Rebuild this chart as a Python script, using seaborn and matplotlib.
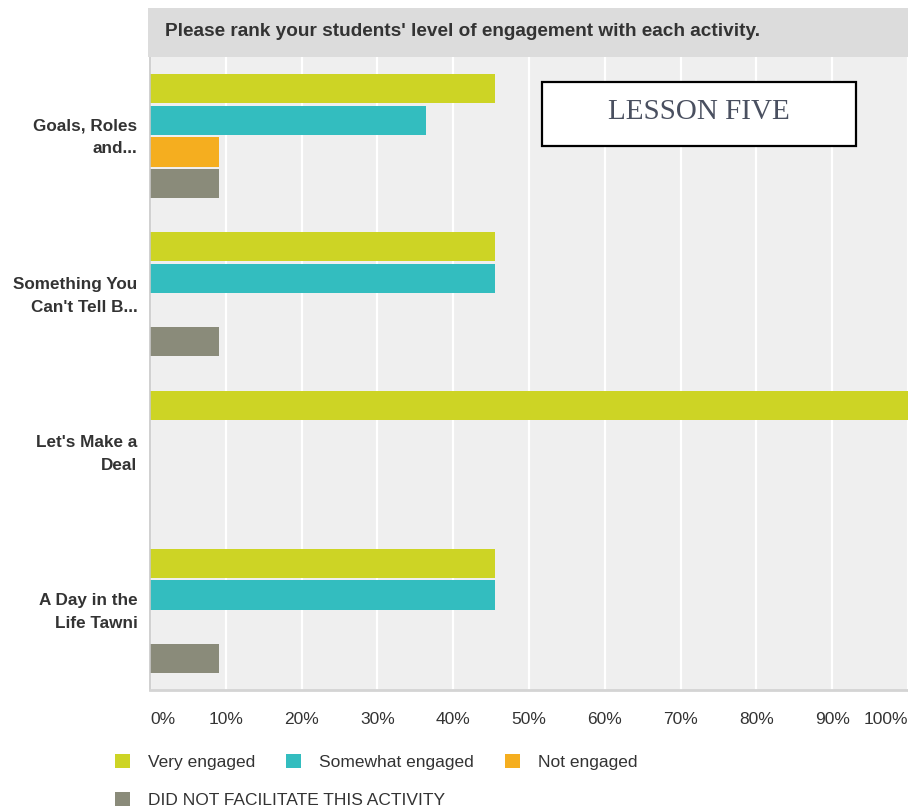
import matplotlib.pyplot as plt
import matplotlib.patches as mpatches
import matplotlib.transforms as mtransforms
import pandas as pd
import seaborn as sns

# Survey results (percent of respondents)
activities = ["Goals, Roles\nand...", "Something You\nCan't Tell B...",
              "Let's Make a\nDeal", "A Day in the\nLife Tawni"]
levels = ["Very engaged", "Somewhat engaged", "Not engaged",
          "DID NOT FACILITATE THIS ACTIVITY"]
very_engaged = [45.45, 45.45, 100.0, 45.45]
somewhat_engaged = [36.36, 45.45, 0.0, 45.45]
not_engaged = [9.09, 0.0, 0.0, 0.0]
did_not_facilitate = [9.09, 9.09, 0.0, 9.09]
x_ticks = [0, 10, 20, 30, 40, 50, 60, 70, 80, 90, 100]
colors = ["#cdd425", "#33bdbf", "#f5ae1f", "#8a8b7a"]

# Long format for seaborn
rows = []
for level, vals in zip(levels, [very_engaged, somewhat_engaged, not_engaged, did_not_facilitate]):
    for act, v in zip(activities, vals):
        rows.append({"activity": act, "level": level, "pct": v})
df = pd.DataFrame(rows)

sns.set_style("white")
plt.rcParams['font.family'] = ['Liberation Sans', 'DejaVu Sans']

W, H = 908, 810
fig = plt.figure(figsize=(W / 100, H / 100), dpi=100)
fig.patch.set_facecolor("white")

# header band
fig.patches.append(mpatches.Rectangle((148 / W, 1 - 57 / H), (W - 148) / W, 49 / H,
                                      transform=fig.transFigure, facecolor="#dcdcdc",
                                      edgecolor="none", zorder=0))
fig.text(165 / W, 1 - 32 / H, "Please rank your students' level of engagement with each activity.",
         fontsize=13.7, fontweight="bold", color="#333333", va="center", ha="left")

ax = fig.add_axes([150 / W, 1 - 690 / H, 758 / W, 633 / H])
ax.set_facecolor("#efefef")

sns.barplot(data=df, x="pct", y="activity", hue="level", orient="h",
            order=activities, hue_order=levels, palette=colors, saturation=1,
            width=0.8, gap=0.08, linewidth=0, legend=False, ax=ax)

ax.set_xlim(0, 100)
ax.set_ylim(3.5, -0.5)
ax.set_axisbelow(True)
ax.xaxis.grid(True, color="white", linewidth=1.6)
ax.yaxis.grid(False)
ax.set_xlabel("")
ax.set_ylabel("")

ax.set_xticks(x_ticks)
ax.set_xticklabels([f"{t}%" for t in x_ticks], fontsize=12.5, color="#333333")
ax.get_xticklabels()[0].set_horizontalalignment("left")
ax.get_xticklabels()[-1].set_horizontalalignment("right")
ax.tick_params(axis="x", length=0, pad=16)
ax.tick_params(axis="y", length=0, pad=9)
up = mtransforms.ScaledTranslation(0, 3 / 72, fig.dpi_scale_trans)
for lbl in ax.get_yticklabels():
    lbl.set_fontweight("bold")
    lbl.set_fontsize(12.3)
    lbl.set_color("#333333")
    lbl.set_linespacing(1.65)
    lbl.set_transform(lbl.get_transform() + up)

for side in ["top", "right"]:
    ax.spines[side].set_visible(False)
ax.spines["left"].set_color("#c8c8c8")
ax.spines["left"].set_linewidth(1.2)
ax.spines["bottom"].set_color("#d4d4d4")
ax.spines["bottom"].set_linewidth(2)

# LESSON FIVE box
fig.patches.append(mpatches.Rectangle((542 / W, 1 - 146 / H), 314 / W, 64 / H,
                                      transform=fig.transFigure, facecolor="white",
                                      edgecolor="black", linewidth=1.6, zorder=5))
fig.text(699 / W, 1 - 112 / H, "LESSON FIVE", fontsize=21, color="#4a5060",
         family=["Liberation Serif", "DejaVu Serif"], ha="center", va="center", zorder=6)

# legend: three on first row, one on second
handles = [mpatches.FancyBboxPatch((0, 0), 1, 1, facecolor=c, edgecolor="none") for c in colors]
leg_kw = dict(frameon=False, fontsize=12.5, handlelength=0.86, handleheight=0.86,
              handletextpad=1.03, borderpad=0, borderaxespad=0, labelcolor="#333333")
fig.legend(handles[:3], levels[:3], ncol=3, columnspacing=1.8,
           loc="center left", bbox_to_anchor=(115 / W, 1 - 762 / H), **leg_kw)
fig.legend(handles[3:], levels[3:], loc="center left",
           bbox_to_anchor=(115 / W, 1 - 800 / H), **leg_kw)

fig.savefig("out.png", dpi=100)
